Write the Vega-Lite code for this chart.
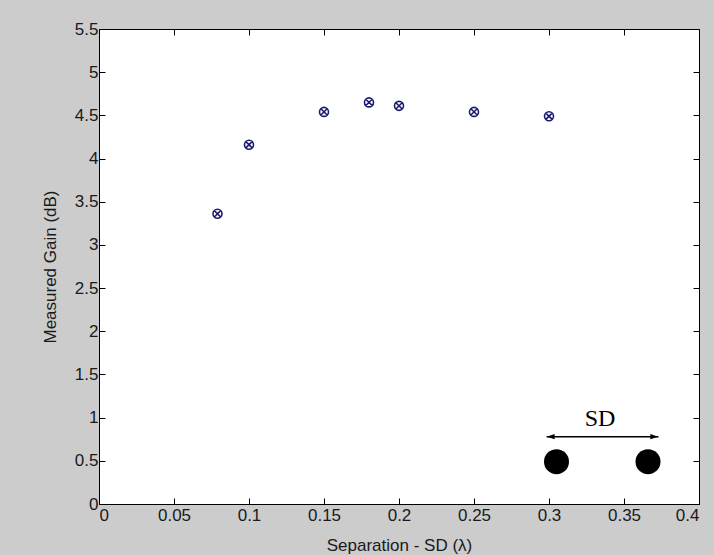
{
  "$schema": "https://vega.github.io/schema/vega-lite/v6.json",
  "autosize": "none",
  "width": 600,
  "height": 475,
  "padding": {"left": 99, "top": 29, "right": 15, "bottom": 51},
  "background": "#cccccc",
  "config": {
    "view": {"fill": "white", "stroke": "black", "strokeWidth": 1},
    "font": "Liberation Sans",
    "axis": {
      "grid": false,
      "domainColor": "black",
      "tickColor": "black",
      "tickSize": -6,
      "labelColor": "#1a1a1a",
      "labelFontSize": 17,
      "labelFont": "Liberation Sans",
      "titleFont": "Liberation Sans",
      "titleFontSize": 17,
      "titleFontWeight": "normal",
      "titleColor": "#1a1a1a"
    }
  },
  "datasets": {
    "gain": [
      {"sep": 0.079, "gain": 3.36},
      {"sep": 0.1, "gain": 4.16},
      {"sep": 0.15, "gain": 4.54},
      {"sep": 0.18, "gain": 4.65},
      {"sep": 0.2, "gain": 4.61},
      {"sep": 0.25, "gain": 4.54},
      {"sep": 0.3, "gain": 4.49}
    ],
    "dots": [
      {"sep": 0.305, "gain": 0.49},
      {"sep": 0.366, "gain": 0.49}
    ],
    "arrow": [
      {"x1": 0.2984, "x2": 0.373, "y": 0.78}
    ],
    "heads": [
      {"sep": 0.3011, "y": 0.78, "dir": "left"},
      {"sep": 0.3702, "y": 0.78, "dir": "right"}
    ],
    "label": [
      {"sep": 0.334, "y": 0.99, "text": "SD"}
    ]
  },
  "layer": [
    {
      "data": {"name": "gain"},
      "mark": {
        "type": "point",
        "shape": "M-1,0A1,1 0 1,1 1,0A1,1 0 1,1 -1,0ZM-0.7,-0.7L0.7,0.7M-0.7,0.7L0.7,-0.7",
        "filled": false,
        "stroke": "#1c1c6c",
        "strokeWidth": 1.6,
        "size": 81,
        "opacity": 1
      },
      "encoding": {
        "x": {
          "field": "sep", "type": "quantitative",
          "scale": {"domain": [0, 0.4], "nice": false, "zero": false},
          "axis": {
            "orient": "bottom",
            "title": "Separation - SD (λ)",
            "values": [0, 0.05, 0.1, 0.15, 0.2, 0.25, 0.3, 0.35, 0.4],
            "format": "~g",
            "labelPadding": 9,
            "labelBaseline": "top",
            "titleX": 300,
            "titleY": 46,
            "titleBaseline": "alphabetic",
            "titleAlign": "center"
          }
        },
        "y": {
          "field": "gain", "type": "quantitative",
          "scale": {"domain": [0, 5.5], "nice": false, "zero": false},
          "axis": {
            "orient": "left",
            "title": "Measured Gain (dB)",
            "values": [0, 0.5, 1, 1.5, 2, 2.5, 3, 3.5, 4, 4.5, 5, 5.5],
            "format": "~g",
            "labelPadding": 7,
            "titleX": -49,
            "titleY": 237.5,
            "titleAngle": 270,
            "titleBaseline": "middle",
            "titleAlign": "center"
          }
        }
      }
    },
    {
      "data": {"name": "dots"},
      "mark": {"type": "point", "shape": "circle", "filled": true, "color": "black", "size": 625, "opacity": 1},
      "encoding": {
        "x": {
          "field": "sep", "type": "quantitative",
          "axis": {"orient": "top", "labels": false, "title": null, "domain": false,
                   "values": [0, 0.05, 0.1, 0.15, 0.2, 0.25, 0.3, 0.35, 0.4]}
        },
        "y": {
          "field": "gain", "type": "quantitative",
          "axis": {"orient": "right", "labels": false, "title": null, "domain": false,
                   "values": [0, 0.5, 1, 1.5, 2, 2.5, 3, 3.5, 4, 4.5, 5, 5.5]}
        }
      }
    },
    {
      "data": {"name": "arrow"},
      "mark": {"type": "rule", "color": "black", "strokeWidth": 1.5},
      "encoding": {
        "x": {"field": "x1", "type": "quantitative", "axis": null},
        "x2": {"field": "x2"},
        "y": {"field": "y", "type": "quantitative", "axis": null}
      }
    },
    {
      "data": {"name": "heads"},
      "transform": [{"filter": "datum.dir === 'left'"}],
      "mark": {"type": "point", "shape": "M-1,0L1,-0.65L1,0.65Z", "filled": true, "color": "black", "size": 64, "opacity": 1},
      "encoding": {
        "x": {"field": "sep", "type": "quantitative", "axis": null},
        "y": {"field": "y", "type": "quantitative", "axis": null}
      }
    },
    {
      "data": {"name": "heads"},
      "transform": [{"filter": "datum.dir === 'right'"}],
      "mark": {"type": "point", "shape": "M1,0L-1,-0.65L-1,0.65Z", "filled": true, "color": "black", "size": 64, "opacity": 1},
      "encoding": {
        "x": {"field": "sep", "type": "quantitative", "axis": null},
        "y": {"field": "y", "type": "quantitative", "axis": null}
      }
    },
    {
      "data": {"name": "label"},
      "mark": {"type": "text", "font": "Liberation Serif", "fontSize": 24, "color": "black", "align": "center", "baseline": "middle"},
      "encoding": {
        "x": {"field": "sep", "type": "quantitative", "axis": null},
        "y": {"field": "y", "type": "quantitative", "axis": null},
        "text": {"field": "text"}
      }
    }
  ],
  "resolve": {"axis": {"x": "independent", "y": "independent"}}
}
